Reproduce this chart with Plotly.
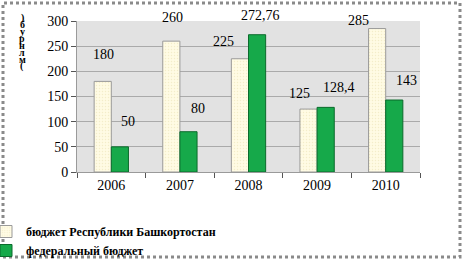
import plotly.graph_objects as go

years = ["2006", "2007", "2008", "2009", "2010"]
bashkortostan = [180, 260, 225, 125, 285]
federal = [50, 80, 272.76, 128.4, 143]
bash_labels = ["180", "260", "225", "125", "285"]
fed_labels = ["50", "80", "272,76", "128,4", "143"]
series_names = ["бюджет Республики Башкортостан", "федеральный бюджет"]
y_ticks = [0, 50, 100, 150, 200, 250, 300]
y_title_letters = [")", "б", "у", "р", "н", "л", "м", "("]

# label placement tweaks (pixels), mimicking the original chart's label layout
bash_dx = [-8, -7, -25, -18, -27]
bash_dy = [27, 24, 17, 16, 8]
fed_dx = [17, 18, 12, 22, 21]
fed_dy = [25, 23, 19, 20, 20]

W, H = 463, 260
L, R, T, B = 77, 43, 21, 88
pw, ph = W - L - R, H - T - B

serif = "Times New Roman, Liberation Serif, serif"

fig = go.Figure()
fig.add_trace(go.Bar(
    x=years, y=bashkortostan, name=series_names[0],
    marker=dict(color="#fffbe4", line=dict(color="#9a9a9a", width=1),
                pattern=dict(shape=".", fgcolor="#e8dfb0", size=3, solidity=0.2)),
))
fig.add_trace(go.Bar(
    x=years, y=federal, name=series_names[1],
    marker=dict(color="#16a94a", line=dict(color="#0b6b2c", width=1)),
))

for i in range(len(years)):
    fig.add_annotation(xref="x", yref="y", x=i, y=bashkortostan[i], text=bash_labels[i],
                       showarrow=False, xshift=bash_dx[i], yshift=bash_dy[i],
                       font=dict(family=serif, size=14, color="#000"))
    fig.add_annotation(xref="x", yref="y", x=i, y=federal[i], text=fed_labels[i],
                       showarrow=False, xshift=fed_dx[i], yshift=fed_dy[i],
                       font=dict(family=serif, size=14, color="#000"))

# y-axis title (stacked letters, bottom-to-top reading)
for k, ch in enumerate(y_title_letters):
    fig.add_annotation(xref="paper", yref="paper",
                       x=(22 - L) / pw, y=(H - B - (18 + 6.9 * k)) / ph,
                       text=ch, showarrow=False,
                       font=dict(family=serif, size=10, color="#000", weight="bold"),
                       xanchor="center", yanchor="middle")

# outer frame
fig.add_shape(type="rect", xref="paper", yref="paper",
              x0=(3 - L) / pw, x1=(W - 3 - L) / pw,
              y0=(H - B - (H - 3)) / ph, y1=(H - B - 3) / ph,
              line=dict(color="#8a8a8a", width=3, dash="dot"), layer="below")

fig.update_layout(
    width=W, height=H,
    margin=dict(l=L, r=R, t=T, b=B, autoexpand=False),
    paper_bgcolor="white", plot_bgcolor="#e2e2e2",
    barmode="group", bargap=0.5, bargroupgap=0.0,
    showlegend=True,
    legend=dict(x=(-14 - L) / pw, y=(H - B - 217) / ph, xanchor="left", yanchor="top",
                font=dict(family=serif, size=12, color="#000", weight="bold"),
                tracegroupgap=0, itemwidth=30, bgcolor="rgba(0,0,0,0)"),
    xaxis=dict(type="category", range=[-0.5, len(years) - 0.5],
               tickfont=dict(family=serif, size=14, color="#000"),
               showline=True, linecolor="#9a9a9a", ticks="outside", ticklen=5,
               tickcolor="#555", tickson="boundaries", showgrid=False),
    yaxis=dict(range=[0, 300], tickvals=y_ticks, ticks="outside", ticklen=5,
               tickcolor="#555", tickfont=dict(family=serif, size=14, color="#000"),
               gridcolor="#aaaaaa", showline=True, linecolor="#9a9a9a", zeroline=False),
)

fig.write_html("out.html")
